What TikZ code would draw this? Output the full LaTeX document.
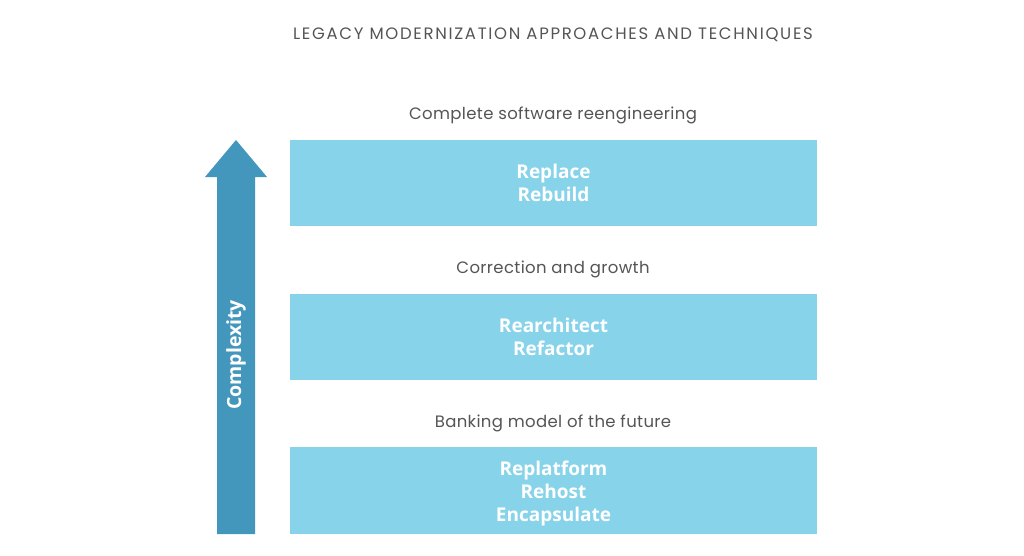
\documentclass[tikz,border=0pt]{standalone}
\usepackage{fontspec}
\setmainfont{Open Sans}
\newfontfamily\titlefont[LetterSpace=10.2]{Poppins}
\newfontfamily\labelfont[LetterSpace=2.2]{Poppins}
\definecolor{boxblue}{HTML}{87D3EA}
\definecolor{arrowblue}{HTML}{4396BC}
\definecolor{labelgray}{HTML}{555555}
\begin{document}
\begin{tikzpicture}[x=1pt,y=-1pt,
  stagebox/.style={fill=boxblue,draw=none,minimum width=527pt,minimum height=86pt,inner sep=0pt,
    align=center,text=white,font=\fontsize{19}{23}\selectfont\bfseries},
  boxtext/.style={align=center,text=white,font=\fontsize{19}{23}\selectfont\bfseries,inner sep=0pt},
  caption/.style={text=labelgray,font=\labelfont\fontsize{16.5}{18}\selectfont,inner sep=0pt},
]
\useasboundingbox (0,0) rectangle (1024,556);
\fill[white] (0,0) rectangle (1024,556);
\node[caption,font=\titlefont\fontsize{16.5}{18}\selectfont] (title) at (553,35) {LEGACY MODERNIZATION APPROACHES AND TECHNIQUES};
\node[caption] (l1) at (553,115) {Complete software reengineering};
\node[stagebox] (b1) at (553.5,183) {Replace\\Rebuild};
\node[caption] (l2) at (553,269) {Correction and growth};
\node[stagebox] (b2) at (553.5,336.5) {Rearchitect\\Refactor};
\node[caption] (l3) at (553,423) {Banking model of the future};
\node[stagebox,minimum height=87pt] (b3) at (553.5,490.5) {};
\node[boxtext] (t3) at (553.5,493.5) {Replatform\\Rehost\\Encapsulate};
\fill[arrowblue] (217,534) -- (217,177) -- (205,177) -- (236,140) -- (267,177) -- (255,177) -- (255,534) -- cycle;
\node[rotate=90,text=white,font=\fontsize{19.5}{22}\selectfont\bfseries,inner sep=0pt] (cx) at (236,355) {Complexity};
\end{tikzpicture}
\end{document}
